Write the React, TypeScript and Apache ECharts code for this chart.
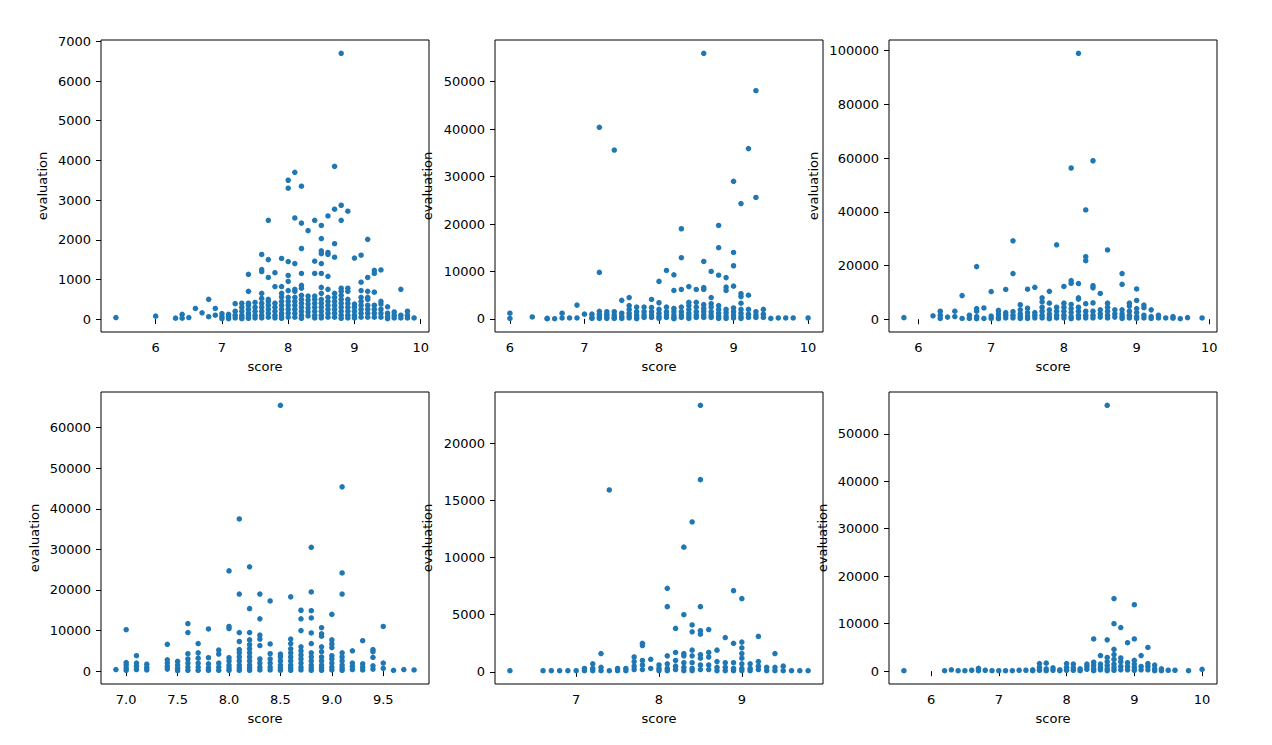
import React, { useEffect, useRef } from "react";
import * as echarts from "echarts";

// Each panel: [score, [evaluations at that score]]
const panel1: [number, number[]][] = [
  [5.4, [40]], [6.0, [75]], [6.3, [25]], [6.4, [120, 25]], [6.5, [40]], [6.6, [270]], [6.7, [160]],
  [6.8, [500, 60]], [6.9, [270, 100]], [7.0, [140, 60, 10]], [7.1, [120, 60, 10]],
  [7.2, [390, 200, 100, 30]], [7.3, [400, 300, 200, 100, 50, 10]],
  [7.4, [1130, 700, 400, 350, 250, 150, 80, 20]], [7.5, [420, 300, 200, 100, 30]],
  [7.6, [1630, 1250, 1200, 650, 520, 400, 300, 200, 100, 30]],
  [7.7, [2490, 1500, 1050, 500, 450, 350, 250, 150, 50]],
  [7.8, [1170, 820, 400, 300, 200, 100, 30]],
  [7.9, [1530, 820, 650, 560, 450, 350, 250, 150, 80, 20]],
  [8.0, [3500, 3300, 1450, 1100, 950, 720, 550, 450, 350, 250, 150, 50]],
  [8.1, [3700, 2550, 1400, 750, 700, 550, 450, 350, 250, 150, 50]],
  [8.2, [3350, 2420, 1780, 1150, 850, 780, 600, 500, 400, 300, 200, 100, 20]],
  [8.3, [2230, 580, 480, 380, 280, 180, 80]],
  [8.4, [2490, 1460, 1150, 580, 500, 400, 300, 200, 100, 30]],
  [8.5, [2360, 2030, 1720, 1650, 1400, 1150, 800, 650, 500, 400, 300, 200, 100, 30]],
  [8.6, [2600, 1680, 1630, 1080, 750, 550, 450, 350, 250, 150, 50]],
  [8.7, [3850, 2770, 1900, 1560, 650, 550, 450, 350, 250, 150, 50]],
  [8.8, [6700, 2870, 2490, 780, 700, 600, 500, 400, 300, 200, 100, 20]],
  [8.9, [2720, 780, 700, 500, 400, 300, 200, 100, 30]],
  [9.0, [1540, 380, 300, 200, 100, 30]],
  [9.1, [1610, 930, 720, 550, 450, 350, 250, 150, 50]],
  [9.2, [2010, 1050, 700, 550, 500, 350, 250, 150, 50]],
  [9.3, [1230, 1150, 680, 350, 250, 150, 50]],
  [9.4, [1240, 450, 380, 250, 150, 50]],
  [9.5, [310, 150, 60, 10]], [9.6, [180, 100, 30]], [9.7, [750, 100, 30]],
  [9.8, [200, 100, 30]], [9.9, [30]],
];

const panel2: [number, number[]][] = [
  [6.0, [1200, 100]], [6.3, [400]], [6.5, [50, 100]], [6.6, [30]], [6.7, [1200, 200]], [6.8, [200]],
  [6.9, [2900, 200]], [7.0, [1000]], [7.1, [1000, 300, 100]],
  [7.2, [40400, 9800, 1600, 1000, 400, 100]], [7.3, [1500, 1000, 500, 100]],
  [7.4, [35600, 1500, 800, 300, 100]], [7.5, [3900, 1200, 500, 100]],
  [7.6, [4500, 2800, 2000, 1200, 600, 200]], [7.7, [2500, 1500, 800, 300, 50]],
  [7.8, [2500, 1500, 800, 300]], [7.9, [4100, 2400, 1500, 800, 300]],
  [8.0, [7900, 3400, 2000, 1200, 500, 100]], [8.1, [10200, 2500, 1500, 800, 300]],
  [8.2, [9300, 6000, 2200, 1500, 800, 300, 50]],
  [8.3, [19000, 12900, 6200, 2500, 1500, 800, 300]],
  [8.4, [6800, 3500, 2800, 2000, 1200, 600, 100]],
  [8.5, [6200, 3500, 2500, 1500, 800, 300]],
  [8.6, [56000, 12100, 6600, 6200, 3000, 2200, 1500, 800, 300]],
  [8.7, [10000, 4500, 3200, 2500, 1500, 800, 300]],
  [8.8, [19700, 15000, 9200, 2800, 2000, 1200, 500, 100]],
  [8.9, [8700, 6700, 6000, 2000, 1300, 600, 100]],
  [9.0, [29000, 14000, 11200, 6900, 2300, 1500, 800, 200]],
  [9.1, [24300, 5300, 4700, 3300, 2000, 1200, 500, 100]],
  [9.2, [35900, 5000, 2000, 1000, 300]], [9.3, [48100, 25600, 1500, 800, 300]],
  [9.4, [2000, 1000, 300]], [9.5, [100]], [9.6, [200]], [9.7, [200]], [9.8, [200]], [10.0, [200]],
];

const panel3: [number, number[]][] = [
  [5.8, [600]], [6.2, [1300]], [6.3, [3000, 1500, 300]], [6.4, [800]], [6.5, [3000, 1000]],
  [6.6, [8800, 300]], [6.7, [1500, 300]], [6.8, [19600, 4000, 3000, 1000, 200]],
  [6.9, [4200, 300]], [7.0, [10300, 1200, 300]], [7.1, [3300, 2000, 800, 200]],
  [7.2, [11100, 2500, 1500, 500]], [7.3, [29200, 17000, 2800, 1500, 500]],
  [7.4, [5400, 3500, 2000, 1000, 300]], [7.5, [11200, 4100, 2500, 1200, 300]],
  [7.6, [11900, 2500, 1500, 500]], [7.7, [8000, 6500, 4500, 3000, 1500, 500]],
  [7.8, [10400, 6000, 3500, 2000, 800, 200]], [7.9, [27700, 4500, 3000, 1500, 500]],
  [8.0, [12200, 6000, 4500, 3000, 1500, 500]],
  [8.1, [56300, 14400, 13400, 5500, 4000, 2500, 1000, 200]],
  [8.2, [99000, 13300, 8000, 7500, 4500, 3000, 1500, 500]],
  [8.3, [40700, 23300, 21800, 5800, 3000, 1500, 500]],
  [8.4, [59000, 12500, 11700, 6100, 3000, 1500, 500]],
  [8.5, [9600, 3500, 2000, 800]], [8.6, [25800, 6000, 4500, 3000, 1500, 500]],
  [8.7, [3500, 2000, 800]], [8.8, [17000, 13000, 3500, 2000, 1000, 300]],
  [8.9, [6000, 4900, 3000, 1500, 500]], [9.0, [11300, 7000, 4000, 2500, 1000, 300]],
  [9.1, [5300, 4300, 1500, 500]], [9.2, [3500, 1000, 300]], [9.3, [1500, 500]],
  [9.4, [500]], [9.5, [1000, 400]], [9.6, [200]], [9.7, [600]], [9.9, [500]],
];

const panel4: [number, number[]][] = [
  [6.9, [400]], [7.0, [10200, 2100, 1500, 800, 200]], [7.1, [3800, 2000, 1200, 400]],
  [7.2, [1700, 900, 300]], [7.4, [6600, 2800, 2000, 1200, 500]], [7.5, [2400, 1500, 700, 100]],
  [7.6, [11700, 9500, 4300, 3000, 2000, 1000, 200]], [7.7, [6800, 4500, 3200, 2000, 1000, 200]],
  [7.8, [10400, 3300, 1800, 800, 200]], [7.9, [5200, 4200, 2000, 1000, 200]],
  [8.0, [24700, 11000, 10500, 3300, 2500, 1500, 800, 200]],
  [8.1, [37500, 19000, 9500, 7300, 5300, 4500, 3500, 2500, 1500, 800, 200]],
  [8.2, [25700, 15400, 9500, 7700, 6500, 5500, 4500, 3500, 2500, 1500, 800, 200]],
  [8.3, [19000, 12900, 8900, 7900, 6300, 3000, 2000, 1000, 300]],
  [8.4, [17300, 6700, 4300, 3000, 2000, 1000, 300]],
  [8.5, [65500, 4200, 3500, 2500, 1500, 800, 200]],
  [8.6, [18300, 7900, 6800, 5500, 4500, 3500, 2500, 1500, 800, 200]],
  [8.7, [15000, 12900, 10000, 6000, 5000, 4000, 3000, 2000, 1000, 300]],
  [8.8, [30500, 19500, 14900, 13100, 9400, 6800, 4500, 3500, 2500, 1500, 800, 200]],
  [8.9, [10700, 9200, 8600, 6000, 4800, 3500, 2500, 1500, 800, 200]],
  [9.0, [14000, 7700, 6700, 5800, 3800, 3000, 2000, 1000, 300]],
  [9.1, [45400, 24200, 19000, 4500, 3500, 2500, 1500, 800, 200]],
  [9.2, [5000, 2000, 1200, 400]], [9.3, [7500, 1800, 1000, 300]],
  [9.4, [5300, 4800, 3400, 1300, 500]], [9.5, [11000, 2000, 700]],
  [9.6, [200]], [9.7, [400]], [9.8, [300]],
];

const panel5: [number, number[]][] = [
  [6.2, [100]], [6.6, [100]], [6.7, [100]], [6.8, [100]], [6.9, [100]], [7.0, [100]],
  [7.1, [300, 100]], [7.2, [700, 300, 100]], [7.3, [1600, 400, 100]], [7.4, [15900, 100]],
  [7.5, [300, 100]], [7.6, [300, 100]], [7.7, [1300, 900, 500, 200]],
  [7.8, [2500, 2300, 1000, 600, 200]], [7.9, [1100, 300]], [8.0, [600, 300, 100]],
  [8.1, [7300, 5700, 1400, 700, 300, 100]], [8.2, [3800, 1700, 1000, 500, 200]],
  [8.3, [10900, 5000, 1600, 1400, 800, 400, 100]],
  [8.4, [13100, 4100, 3500, 1900, 1400, 800, 300, 100]],
  [8.5, [23300, 16800, 5700, 3600, 3300, 1500, 1200, 600, 200]],
  [8.6, [3700, 1700, 1300, 600, 200]], [8.7, [1900, 900, 400, 100]],
  [8.8, [3000, 800, 400, 100]], [8.9, [7100, 2500, 800, 300, 100]],
  [9.0, [6400, 2600, 2100, 1600, 1200, 700, 300, 100]], [9.1, [700, 300, 100]],
  [9.2, [3100, 900, 500, 200]], [9.3, [400, 100]], [9.4, [1600, 400, 100]],
  [9.5, [500, 100]], [9.6, [100]], [9.7, [100]], [9.8, [100]],
];

const panel6: [number, number[]][] = [
  [5.6, [100]], [6.2, [100]], [6.3, [300]], [6.4, [100]], [6.5, [100]], [6.6, [200]],
  [6.7, [600, 100]], [6.8, [200]], [6.9, [100]], [7.0, [100]], [7.1, [100]], [7.2, [100]],
  [7.3, [200]], [7.4, [200]], [7.5, [300, 100]], [7.6, [1600, 800, 200]], [7.7, [1700, 500, 100]],
  [7.8, [700, 200]], [7.9, [300, 100]], [8.0, [1600, 800, 200]], [8.1, [1500, 700, 200]],
  [8.2, [500, 100]], [8.3, [1500, 1000, 400]], [8.4, [6800, 1900, 1200, 500, 100]],
  [8.5, [3300, 1500, 800, 300]], [8.6, [56000, 6600, 2900, 2000, 1200, 500, 100]],
  [8.7, [15300, 10000, 4600, 3500, 2500, 1500, 800, 200]], [8.8, [9200, 2800, 2000, 1000, 300]],
  [8.9, [6000, 1800, 1000, 300]], [9.0, [14000, 6800, 2300, 1500, 800, 200]],
  [9.1, [3300, 1000, 300]], [9.2, [5000, 1600, 1000, 300]], [9.3, [1300, 500, 100]],
  [9.4, [500, 100]], [9.5, [200]], [9.6, [200]], [9.8, [100]], [10.0, [400]],
];

// Tick values / labels
const xTicks1 = [6, 7, 8, 9, 10];
const xTicks2 = [6, 7, 8, 9, 10];
const xTicks3 = [6, 7, 8, 9, 10];
const xTicks4 = [7.0, 7.5, 8.0, 8.5, 9.0, 9.5];
const xTicks5 = [7, 8, 9];
const xTicks6 = [6, 7, 8, 9, 10];
const yTicks1 = [0, 1000, 2000, 3000, 4000, 5000, 6000, 7000];
const yTicks2 = [0, 10000, 20000, 30000, 40000, 50000];
const yTicks3 = [0, 20000, 40000, 60000, 80000, 100000];
const yTicks4 = [0, 10000, 20000, 30000, 40000, 50000, 60000];
const yTicks5 = [0, 5000, 10000, 15000, 20000];
const yTicks6 = [0, 10000, 20000, 30000, 40000, 50000];
const xLabelDecimals = [0, 0, 0, 1, 0, 0];

const xName = "score";
const yName = "evaluation";

const panels = [panel1, panel2, panel3, panel4, panel5, panel6];
const xTicksAll = [xTicks1, xTicks2, xTicks3, xTicks4, xTicks5, xTicks6];
const yTicksAll = [yTicks1, yTicks2, yTicks3, yTicks4, yTicks5, yTicks6];

// Layout (pixels)
const lefts = [101, 495, 889, 101, 495, 889];
const tops = [40, 40, 40, 392, 392, 392];
const yNameGaps = [52, 61, 69, 60, 61, 60];

const FONT = "DejaVu Sans";
const BLUE = "#1f77b4";

export default function App() {
  const ref = useRef<HTMLDivElement>(null);
  useEffect(() => {
    if (!ref.current) return;
    const chart = echarts.init(ref.current, null, { renderer: "svg" });
    const pad = (v: { min: number; max: number }) => 0.05 * (v.max - v.min);
    const grid = panels.map((_, i) => ({
      left: lefts[i],
      top: tops[i],
      width: 328,
      height: 292,
      show: true,
      borderColor: "#000",
      borderWidth: 1,
      backgroundColor: "transparent",
      containLabel: false,
    }));
    const textStyle = { fontFamily: FONT, fontSize: 13, color: "#000" };
    const xAxis = panels.map((_, i) => ({
      type: "value",
      gridIndex: i,
      min: (v: any) => v.min - pad(v),
      max: (v: any) => v.max + pad(v),
      scale: true,
      name: xName,
      nameLocation: "middle",
      nameGap: 28,
      nameTextStyle: textStyle,
      axisLine: { show: false },
      splitLine: { show: false },
      axisTick: {
        show: true,
        inside: false,
        length: 5,
        customValues: xTicksAll[i],
        lineStyle: { color: "#000", width: 1 },
      },
      axisLabel: {
        ...textStyle,
        margin: 9,
        customValues: xTicksAll[i],
        formatter: (v: number) => v.toFixed(xLabelDecimals[i]),
      },
    }));
    const yAxis = panels.map((_, i) => ({
      type: "value",
      gridIndex: i,
      min: (v: any) => v.min - pad(v),
      max: (v: any) => v.max + pad(v),
      scale: true,
      name: yName,
      nameLocation: "middle",
      nameGap: yNameGaps[i],
      nameRotate: 90,
      nameTextStyle: textStyle,
      axisLine: { show: false },
      splitLine: { show: false },
      axisTick: {
        show: true,
        inside: false,
        length: 5,
        customValues: yTicksAll[i],
        lineStyle: { color: "#000", width: 1 },
      },
      axisLabel: {
        ...textStyle,
        margin: 10,
        customValues: yTicksAll[i],
        formatter: (v: number) => String(v),
      },
    }));
    const series = panels.map((p, i) => ({
      type: "scatter",
      xAxisIndex: i,
      yAxisIndex: i,
      symbol: "circle",
      symbolSize: 5.5,
      itemStyle: { color: BLUE, opacity: 1 },
      data: p.flatMap(([s, evs]) => evs.map((e) => [s, e])),
    }));
    chart.setOption({
      animation: false,
      backgroundColor: "#fff",
      grid,
      xAxis,
      yAxis,
      series,
    });
    return () => chart.dispose();
  }, []);
  return (
    <div
      ref={ref}
      style={{ position: "fixed", left: 0, top: 0, width: 1272, height: 745, background: "#fff" }}
    />
  );
}
